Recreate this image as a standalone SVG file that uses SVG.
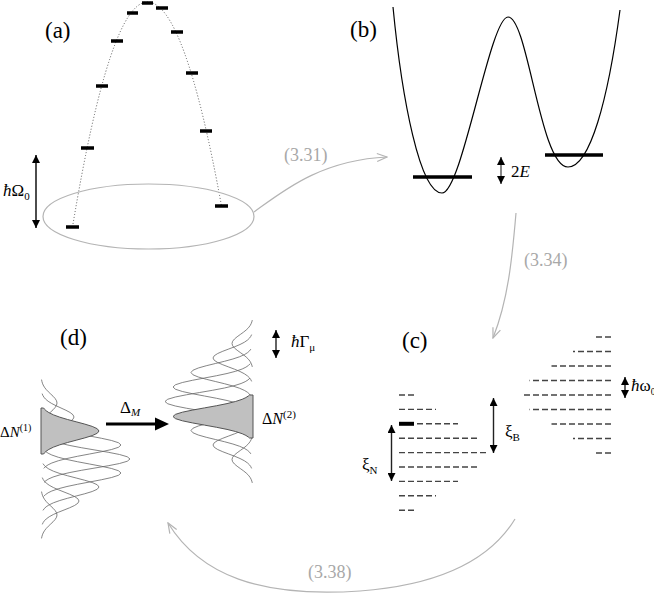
<svg xmlns="http://www.w3.org/2000/svg" width="654" height="597" viewBox="0 0 654 597" font-family="'Liberation Serif', 'DejaVu Serif', serif">
<defs>
<style>
text, tspan{font-family:'Liberation Serif','DejaVu Serif',serif}
text{fill:#000}
.lbl{font-size:23px}
.eq{font-size:18px;fill:#a8a8a8}
.sym{font-size:17px}
.it{font-style:italic}
.conn{fill:none;stroke:#b4b4b4;stroke-width:1.2;marker-end:url(#op)}
.bar{stroke:#000;stroke-width:3.5}
.g{fill:none;stroke:#666;stroke-width:0.8;vector-effect:non-scaling-stroke;stroke-linejoin:round}
.gs{fill:#c0c0c0;stroke:#555;stroke-width:1;vector-effect:non-scaling-stroke;stroke-linejoin:round}
.dl{stroke:#444;stroke-width:1.4;stroke-dasharray:6 3}
.dbl{stroke:#222;stroke-width:1.4;marker-start:url(#hd);marker-end:url(#hd)}
</style>
<marker id="hd" viewBox="0 0 10 10" refX="10" refY="5" markerUnits="userSpaceOnUse" markerWidth="8" markerHeight="8" orient="auto-start-reverse"><path d="M0,0 L10,5 L0,10 z" fill="#000"/></marker>
<marker id="op" viewBox="0 0 12 10" refX="11" refY="5" markerUnits="userSpaceOnUse" markerWidth="12" markerHeight="10" orient="auto"><path d="M1,1 L11,5 L1,9" fill="none" stroke="#b4b4b4" stroke-width="1.2"/></marker>
<path id="gc" class="g" d="M0.034,-2.6 L0.0561,-2.4 0.0889,-2.2 0.1353,-2 0.2163,-1.75 0.3247,-1.5 0.4578,-1.25 0.6065,-1 0.7548,-0.75 0.8825,-0.5 0.9692,-0.25 1,0 0.9692,0.25 0.8825,0.5 0.7548,0.75 0.6065,1 0.4578,1.25 0.3247,1.5 0.2163,1.75 0.1353,2 0.0889,2.2 0.0561,2.4 0.034,2.6"/>
<path id="gf" class="gs" d="M0,-2.5 L0.0439,-2.5 0.0561,-2.4 0.0889,-2.2 0.1353,-2 0.2163,-1.75 0.3247,-1.5 0.4578,-1.25 0.6065,-1 0.7548,-0.75 0.8825,-0.5 0.9692,-0.25 1,0 0.9692,0.25 0.8825,0.5 0.7548,0.75 0.6065,1 0.4578,1.25 0.3247,1.5 0.2163,1.75 0.1353,2 0.0889,2.2 0.0561,2.4 0.0439,2.5 0,2.5 Z"/>
</defs>
<rect width="654" height="597" fill="#fff"/>

<g id="panel-a">
<text class="lbl" x="45" y="37.5">(a)</text>
<path d="M72.5,227 Q110,2 147.5,2 Q184.5,2 221.5,206" fill="none" stroke="#555" stroke-width="1" stroke-dasharray="1 2"/>
<g class="bar">
<line x1="66" y1="227" x2="79" y2="227"/>
<line x1="81" y1="148" x2="94" y2="148"/>
<line x1="96" y1="86" x2="108" y2="86"/>
<line x1="111" y1="41" x2="123" y2="41"/>
<line x1="127" y1="13" x2="138" y2="13"/>
<line x1="142" y1="3" x2="153" y2="3"/>
<line x1="156" y1="8" x2="168" y2="8"/>
<line x1="171" y1="32" x2="183" y2="32"/>
<line x1="186" y1="73" x2="198" y2="73"/>
<line x1="200" y1="131" x2="212" y2="131"/>
<line x1="215" y1="206" x2="228" y2="206"/>
</g>
<ellipse cx="148.5" cy="216.5" rx="105.5" ry="32.5" fill="none" stroke="#b4b4b4" stroke-width="1.2"/>
<line class="dbl" x1="36" y1="155" x2="36" y2="228" style="stroke:#000"/>
<text class="sym" x="3" y="196"><tspan class="it">ħ</tspan>Ω<tspan font-size="11" dy="4">0</tspan></text>
</g>

<g id="panel-b">
<text class="lbl" x="350" y="37">(b)</text>
<path d="M393,7 C402,100 420,193 442,193 C462,193 490,17 508,17 C528,17 540,167 568,167 C590,167 608,100 620,10" fill="none" stroke="#000" stroke-width="1.2"/>
<line class="bar" x1="413" y1="177" x2="472" y2="177"/>
<line class="bar" x1="545" y1="155" x2="603" y2="155"/>
<line class="dbl" x1="501" y1="157" x2="501" y2="184" style="stroke:#555"/>
<text class="sym" x="511" y="177" font-size="16">2<tspan class="it">E</tspan></text>
</g>

<g id="panel-c">
<text class="lbl" x="402" y="348">(c)</text>
<g class="dl">
<line x1="399" y1="395" x2="414" y2="395"/>
<line x1="399" y1="409.4" x2="436" y2="409.4"/>
<line x1="399" y1="423.8" x2="458" y2="423.8"/>
<line x1="399" y1="438.2" x2="480" y2="438.2"/>
<line x1="399" y1="452.6" x2="487" y2="452.6"/>
<line x1="399" y1="467" x2="480" y2="467"/>
<line x1="399" y1="481.4" x2="458" y2="481.4"/>
<line x1="399" y1="495.8" x2="436" y2="495.8"/>
<line x1="399" y1="510.2" x2="414" y2="510.2"/>
<line x1="611" y1="337" x2="595" y2="337"/>
<line x1="611" y1="351.5" x2="573" y2="351.5"/>
<line x1="611" y1="366" x2="551.5" y2="366"/>
<line x1="611" y1="380.5" x2="529.5" y2="380.5"/>
<line x1="611" y1="395" x2="522" y2="395"/>
<line x1="611" y1="409.5" x2="529.5" y2="409.5"/>
<line x1="611" y1="424" x2="551.5" y2="424"/>
<line x1="611" y1="438.5" x2="573" y2="438.5"/>
<line x1="611" y1="453" x2="595" y2="453"/>
</g>
<line x1="399" y1="423.8" x2="414" y2="423.8" stroke="#000" stroke-width="4"/>
<line class="dbl" x1="391.5" y1="425" x2="391.5" y2="481"/>
<text class="sym" x="362" y="470">ξ<tspan font-size="11" dy="4">N</tspan></text>
<line class="dbl" x1="493.5" y1="398" x2="493.5" y2="453"/>
<text class="sym" x="505" y="437">ξ<tspan font-size="11" dy="4">B</tspan></text>
<line class="dbl" x1="625" y1="377" x2="625" y2="398"/>
<text class="sym" x="631" y="391" font-size="15"><tspan class="it">ħ</tspan>ω<tspan font-size="9.5" dy="4">0</tspan></text>
</g>

<g id="panel-d">
<text class="lbl" x="60" y="345">(d)</text>
<g id="stack-1">
<use href="#gc" transform="translate(41,403) scale(16,9)"/>
<use href="#gc" transform="translate(41,417) scale(33,9)"/>
<use href="#gc" transform="translate(41,445) scale(80,9)"/>
<use href="#gc" transform="translate(41,459) scale(89,9)"/>
<use href="#gc" transform="translate(41,473) scale(80,9)"/>
<use href="#gc" transform="translate(41,487) scale(58,9)"/>
<use href="#gc" transform="translate(41,501) scale(38,9)"/>
<use href="#gc" transform="translate(41,515) scale(16,9)"/>
<use href="#gf" transform="translate(41,431) scale(58,9.2)"/>
</g>
<g id="stack-2">
<use href="#gc" transform="translate(253,343.5) scale(-21,9)"/>
<use href="#gc" transform="translate(253,358) scale(-40,9)"/>
<use href="#gc" transform="translate(253,372.5) scale(-62,9)"/>
<use href="#gc" transform="translate(253,387) scale(-80,9)"/>
<use href="#gc" transform="translate(253,401.5) scale(-88,9)"/>
<use href="#gc" transform="translate(253,430.5) scale(-62,9)"/>
<use href="#gc" transform="translate(253,445) scale(-40,9)"/>
<use href="#gc" transform="translate(253,459.5) scale(-21,9)"/>
<use href="#gf" transform="translate(253,416.5) scale(-80,8.6)"/>
</g>
<line x1="106" y1="424" x2="157" y2="424" stroke="#000" stroke-width="3"/>
<polygon points="155,417.5 169,424 155,430.5" fill="#000"/>
<text class="sym" x="120" y="413">Δ<tspan class="it" font-size="11" dy="3">M</tspan></text>
<text x="0" y="437" font-size="15">Δ<tspan class="it">N</tspan><tspan font-size="10" dy="-6">(1)</tspan></text>
<text x="262" y="424" font-size="16">Δ<tspan class="it">N</tspan><tspan font-size="11" dy="-6">(2)</tspan></text>
<line class="dbl" x1="276" y1="330" x2="276" y2="358"/>
<text class="sym" x="291" y="347"><tspan class="it">ħ</tspan>Γ<tspan font-size="11" dy="4">μ</tspan></text>
</g>

<g id="connectors">
<path class="conn" d="M254,212 C282,192 320,160 387,157"/>
<path class="conn" d="M516,213 C512,260 508,300 493,338"/>
<path class="conn" d="M515,519 C490,560 440,585 360,591 C260,598 200,575 168,523"/>
<text class="eq" x="284" y="161">(3.31)</text>
<text class="eq" x="524" y="266">(3.34)</text>
<text class="eq" x="308" y="578">(3.38)</text>
</g>
</svg>
